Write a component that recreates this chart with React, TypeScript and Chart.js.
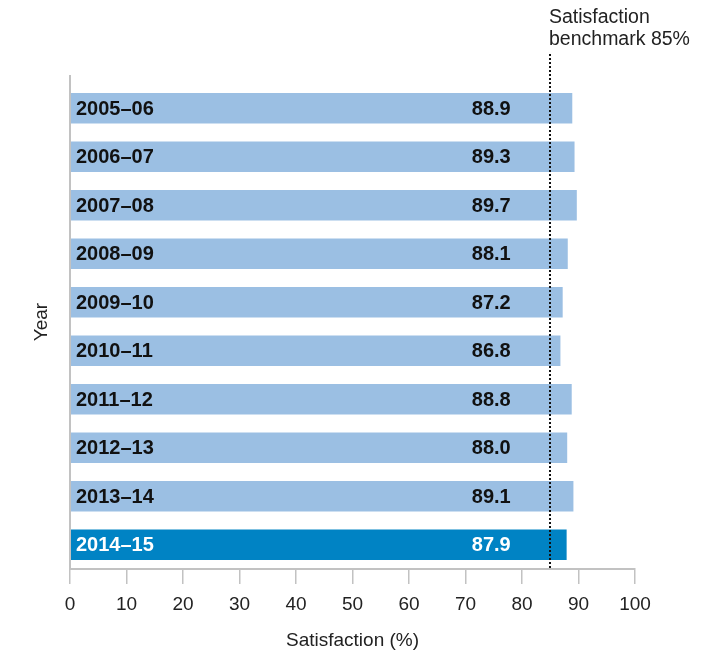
import React, { useEffect, useRef } from "react";
import { Chart, registerables } from "chart.js";

Chart.register(...registerables);

const years = [
  "2005–06",
  "2006–07",
  "2007–08",
  "2008–09",
  "2009–10",
  "2010–11",
  "2011–12",
  "2012–13",
  "2013–14",
  "2014–15",
];
const satisfaction = [88.9, 89.3, 89.7, 88.1, 87.2, 86.8, 88.8, 88.0, 89.1, 87.9];
const benchmark = 85;
const benchmarkLabel = ["Satisfaction", "benchmark 85%"];
const xTicks = [0, 10, 20, 30, 40, 50, 60, 70, 80, 90, 100];
const xTitle = "Satisfaction (%)";
const yTitle = "Year";

const FONT = '"Liberation Sans", Arial, Helvetica, sans-serif';
const LIGHT = "#9bbfe3";
const DARK = "#0083c4";
const AXIS = "#c2c2c2";
const TEXT = "#222222";
const VALUE_LABEL_AT = 78; // axis value where value labels end

const overlay = {
  id: "overlay",
  afterDatasetsDraw(chart: any) {
    const { ctx, chartArea, scales } = chart;
    const x = scales.x;
    const meta = chart.getDatasetMeta(0);
    const last = years.length - 1;

    // labels inside the bars
    ctx.save();
    ctx.font = `bold 20px ${FONT}`;
    ctx.textBaseline = "middle";
    meta.data.forEach((bar: any, i: number) => {
      const color = i === last ? "#ffffff" : "#111111";
      ctx.fillStyle = color;
      ctx.textAlign = "left";
      ctx.fillText(years[i], x.getPixelForValue(0) + 6, bar.y + 1);
      ctx.textAlign = "right";
      ctx.fillText(satisfaction[i].toFixed(1), x.getPixelForValue(VALUE_LABEL_AT), bar.y + 1);
    });
    ctx.restore();

    // vertical axis line
    ctx.save();
    ctx.strokeStyle = AXIS;
    ctx.lineWidth = 2;
    ctx.beginPath();
    ctx.moveTo(x.getPixelForValue(0), chartArea.top - 9);
    ctx.lineTo(x.getPixelForValue(0), chartArea.bottom);
    ctx.stroke();
    ctx.restore();

    // benchmark line
    const bx = Math.round(x.getPixelForValue(benchmark));
    ctx.save();
    ctx.strokeStyle = "#111111";
    ctx.lineWidth = 2;
    ctx.setLineDash([2, 2]);
    ctx.beginPath();
    ctx.moveTo(bx, 54);
    ctx.lineTo(bx, chartArea.bottom);
    ctx.stroke();
    ctx.restore();

    ctx.save();
    ctx.fillStyle = TEXT;
    ctx.font = `19.5px ${FONT}`;
    ctx.textAlign = "left";
    ctx.textBaseline = "alphabetic";
    ctx.fillText(benchmarkLabel[0], bx - 1, 23);
    ctx.fillText(benchmarkLabel[1], bx - 1, 45);

    // axis titles
    ctx.font = `19px ${FONT}`;
    ctx.textAlign = "center";
    ctx.textBaseline = "middle";
    ctx.fillText(xTitle, (chartArea.left + chartArea.right) / 2, 641);
    ctx.translate(42, 322);
    ctx.rotate(-Math.PI / 2);
    ctx.fillText(yTitle, 0, 0);
    ctx.restore();
  },
};

export default function App() {
  const canvasRef = useRef<HTMLCanvasElement | null>(null);

  useEffect(() => {
    if (!canvasRef.current) return;
    const chart = new Chart(canvasRef.current, {
      type: "bar",
      data: {
        labels: years,
        datasets: [
          {
            data: satisfaction,
            backgroundColor: years.map((_, i) => (i === years.length - 1 ? DARK : LIGHT)),
            borderWidth: 0,
            barPercentage: 0.63,
            categoryPercentage: 1,
          },
        ],
      },
      options: {
        indexAxis: "y",
        animation: false,
        responsive: true,
        maintainAspectRatio: false,
        layout: { padding: { left: 70, right: 78, top: 84, bottom: 0 } },
        plugins: {
          legend: { display: false },
          tooltip: { enabled: false },
        },
        scales: {
          y: { display: false },
          x: {
            min: 0,
            max: 100,
            afterFit(scale: any) {
              scale.height = 82;
            },
            afterBuildTicks(scale: any) {
              scale.ticks = xTicks.map((v) => ({ value: v }));
            },
            ticks: {
              color: TEXT,
              font: { family: FONT, size: 19 },
              padding: 9,
              maxRotation: 0,
            },
            grid: {
              drawOnChartArea: false,
              drawTicks: true,
              tickLength: 15,
              color: AXIS,
              lineWidth: 1.5,
            },
            border: { color: AXIS, width: 2 },
          },
        },
      },
      plugins: [overlay],
    });
    return () => chart.destroy();
  }, []);

  return (
    <div style={{ position: "fixed", left: 0, top: 0, width: 713, height: 651, background: "#fff" }}>
      <canvas ref={canvasRef} />
    </div>
  );
}
